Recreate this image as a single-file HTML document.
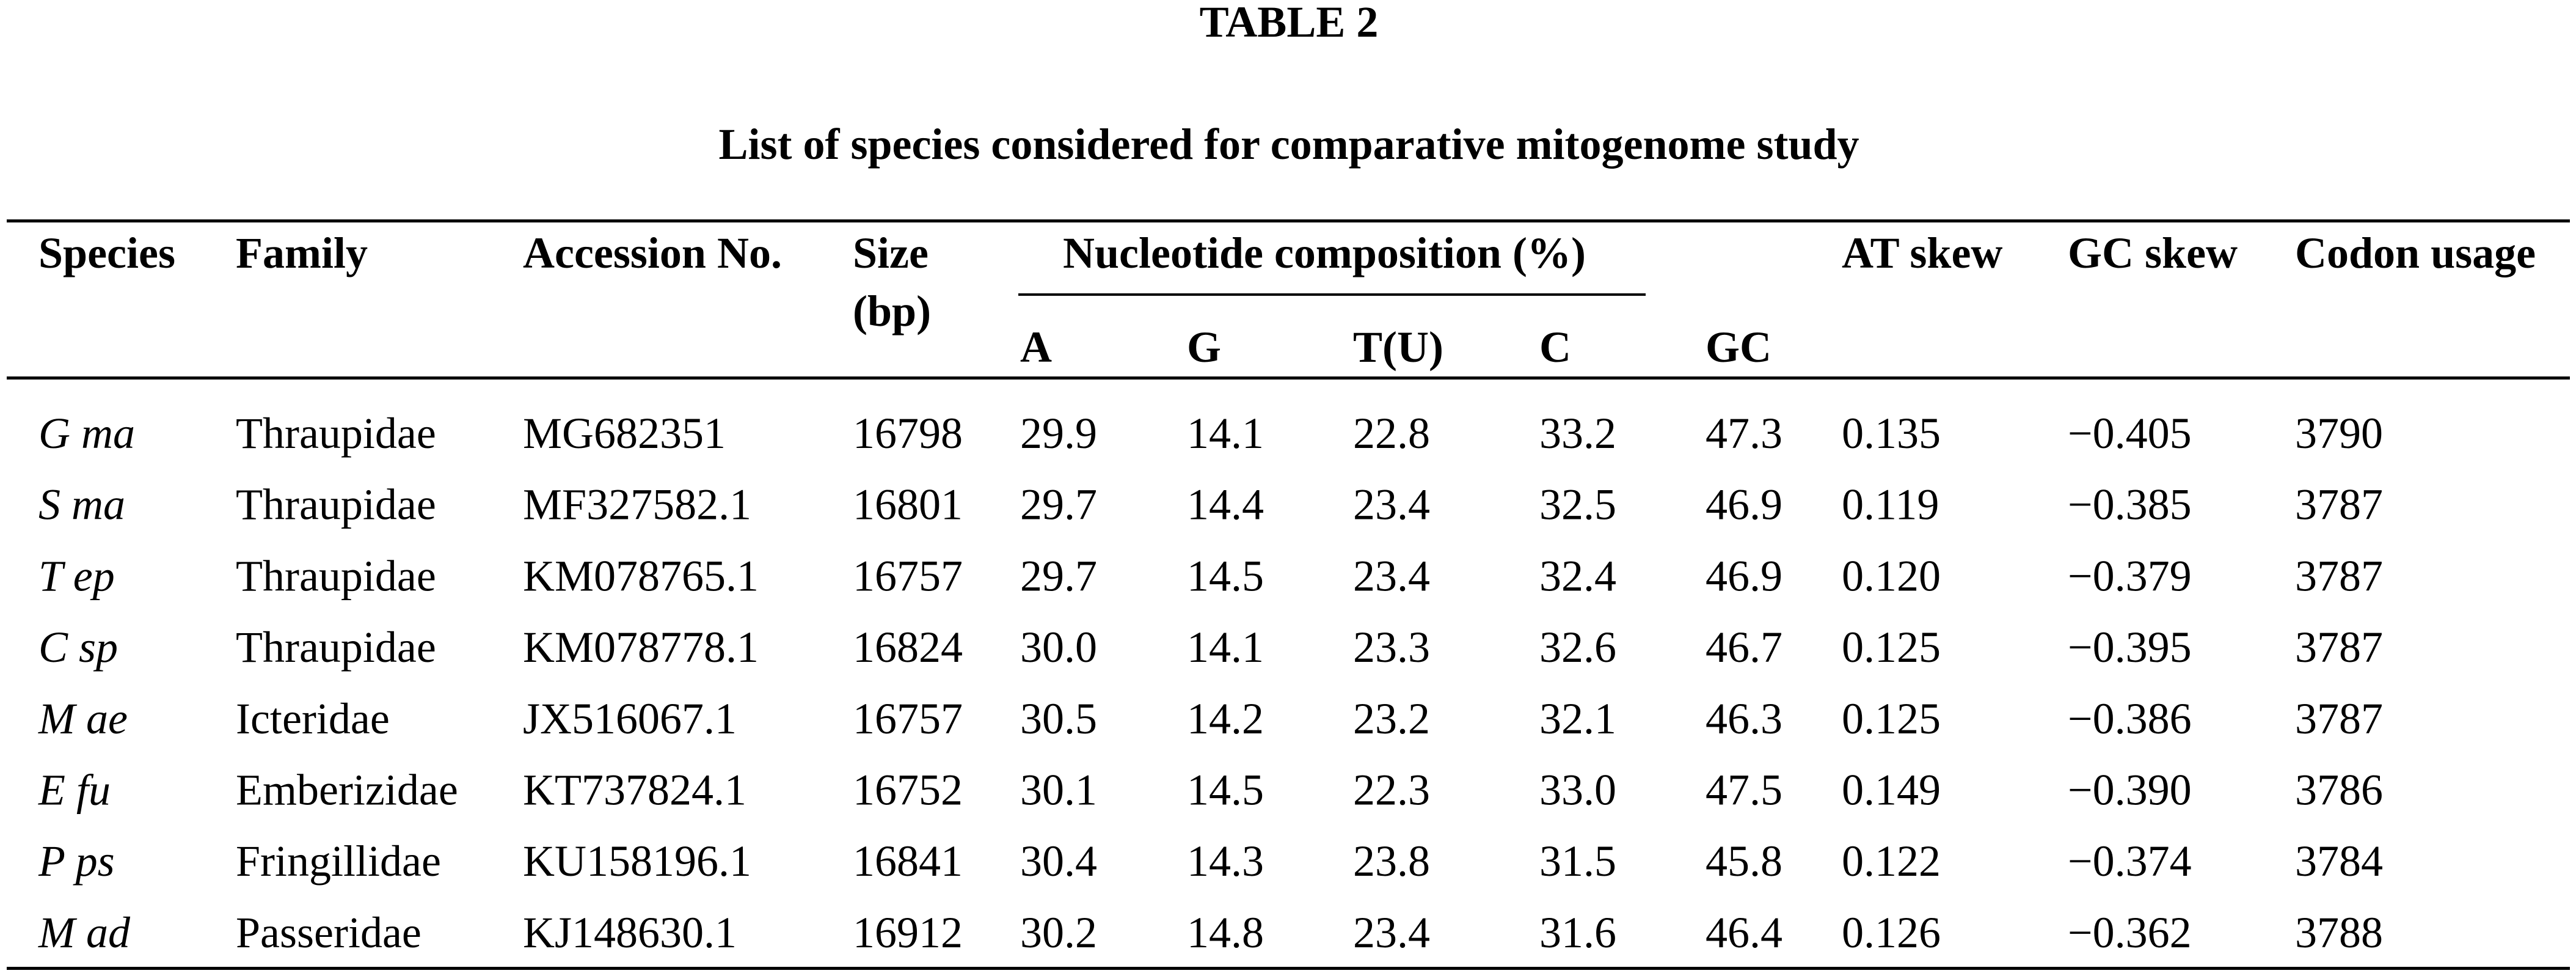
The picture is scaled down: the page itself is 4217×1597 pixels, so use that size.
<!DOCTYPE html>
<html><head><meta charset="utf-8"><style>
html,body{margin:0;padding:0;background:#fff;}
svg{display:block;}
text{font-family:"Liberation Serif",serif;font-size:72px;fill:#000;}
.b{font-weight:bold;}
</style></head><body>
<svg width="4217" height="1597" viewBox="0 0 4217 1597">
<text class="b" x="2110" y="60" text-anchor="middle">TABLE 2</text>
<text class="b" x="2110" y="260" text-anchor="middle">List of species considered for comparative mitogenome study</text>
<rect x="11" y="359" width="4196" height="5"/>
<rect x="1667" y="480" width="1027" height="4"/>
<rect x="11" y="616" width="4196" height="5"/>
<rect x="11" y="1582" width="4196" height="5"/>
<g class="hdr">
<text class="b" x="63" y="438">Species</text>
<text class="b" x="386" y="438">Family</text>
<text class="b" x="856" y="438">Accession No.</text>
<text class="b" x="1396" y="438">Size</text>
<text class="b" x="1396" y="533">(bp)</text>
<text class="b" x="1740" y="438">Nucleotide composition (%)</text>
<text class="b" x="1670" y="592">A</text>
<text class="b" x="1943" y="592">G</text>
<text class="b" x="2215" y="592">T(U)</text>
<text class="b" x="2520" y="592">C</text>
<text class="b" x="2792" y="592">GC</text>
<text class="b" x="3015" y="438">AT skew</text>
<text class="b" x="3385" y="438">GC skew</text>
<text class="b" x="3757" y="438">Codon usage</text>
</g>
<g id="body"></g>
</svg>
<script>
const genus = ["G","S","T","C","M","E","P","M"];
const sp = ["ma","ma","ep","sp","ae","fu","ps","ad"];
const family = ["Thraupidae","Thraupidae","Thraupidae","Thraupidae","Icteridae","Emberizidae","Fringillidae","Passeridae"];
const accession = ["MG682351","MF327582.1","KM078765.1","KM078778.1","JX516067.1","KT737824.1","KU158196.1","KJ148630.1"];
const size = ["16798","16801","16757","16824","16757","16752","16841","16912"];
const colA = ["29.9","29.7","29.7","30.0","30.5","30.1","30.4","30.2"];
const colG = ["14.1","14.4","14.5","14.1","14.2","14.5","14.3","14.8"];
const colT = ["22.8","23.4","23.4","23.3","23.2","22.3","23.8","23.4"];
const colC = ["33.2","32.5","32.4","32.6","32.1","33.0","31.5","31.6"];
const colGC = ["47.3","46.9","46.9","46.7","46.3","47.5","45.8","46.4"];
const atSkew = ["0.135","0.119","0.120","0.125","0.125","0.149","0.122","0.126"];
const gcSkew = ["\u22120.405","\u22120.385","\u22120.379","\u22120.395","\u22120.386","\u22120.390","\u22120.374","\u22120.362"];
const codon = ["3790","3787","3787","3787","3787","3786","3784","3788"];

const NS="http://www.w3.org/2000/svg";
const body=document.getElementById('body');
const xs=[386,856,1396,1670,1943,2215,2520,2792,3015,3385,3757];
const cols=[family,accession,size,colA,colG,colT,colC,colGC,atSkew,gcSkew,codon];
const names=["family","accession","size","a","g","t","c","gc","at-skew","gc-skew","codon"];
for(let i=0;i<genus.length;i++){
  const y=733+i*116.7;
  const g=document.createElementNS(NS,'g');
  
  
  const t=document.createElementNS(NS,'text');
  t.setAttribute('x',63);t.setAttribute('y',y);
  t.setAttribute('font-style','italic');
  t.textContent=genus[i]+' '+sp[i];
  
  
  g.appendChild(t);
  for(let c=0;c<cols.length;c++){
    const e=document.createElementNS(NS,'text');
    e.setAttribute('x',xs[c]);e.setAttribute('y',y);
    e.textContent=cols[c][i];
    
    
    g.appendChild(e);
  }
  body.appendChild(g);
}
</script>
</body></html>
